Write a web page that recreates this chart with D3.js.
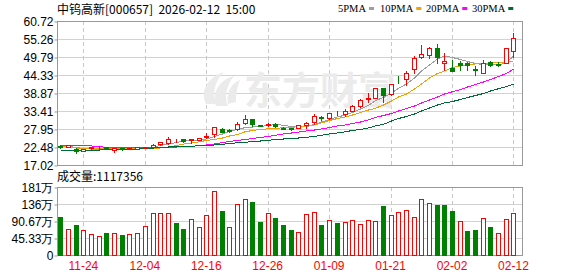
<!DOCTYPE html>
<html>
<head>
<meta charset="utf-8">
<title>中钨高新 日K</title>
<style>
  body { margin: 0; background: #fff; }
  svg { display: block; font-family: "Liberation Sans", Arial, sans-serif; }
</style>
</head>
<body>
<script src="https://cdn.jsdelivr.net/npm/d3@7/dist/d3.min.js"></script>
<script>
  // trading days shown (MM-DD)
  var dates = ["11-19","11-20","11-21","11-24","11-25","11-26","11-27","11-28","12-01","12-02",
    "12-03","12-04","12-05","12-08","12-09","12-10","12-11","12-12","12-15","12-16",
    "12-17","12-18","12-19","12-22","12-23","12-24","12-25","12-26","12-29","12-30",
    "12-31","01-05","01-06","01-07","01-08","01-09","01-12","01-13","01-14","01-15",
    "01-16","01-19","01-20","01-21","01-22","01-23","01-26","01-27","01-28","01-29",
    "01-30","02-02","02-03","02-04","02-05","02-06","02-09","02-10","02-11","02-12"];

  var open = [22.88,22.63,21.97,21.27,22.09,22.39,22.48,21.48,22.03,21.88,
    21.97,22.27,22.48,23.39,23.70,24.46,24.82,24.61,24.61,25.43,
    26.43,27.95,27.55,27.95,29.68,30.89,29.07,29.01,29.55,28.30,
    28.25,28.34,29.01,30.16,31.49,31.19,32.95,32.59,33.41,34.84,
    37.20,37.44,40.30,38.48,43.21,43.03,46.06,49.70,50.31,52.44,
    47.88,46.55,48.07,47.88,46.15,44.85,48.19,47.82,48.07,51.62];
  var close = [22.57,22.94,21.27,21.79,22.39,22.63,21.97,22.09,21.79,22.09,
    22.39,22.48,23.18,24.00,24.82,24.70,24.30,24.82,25.12,25.67,
    28.46,27.13,27.34,29.46,30.98,29.46,28.92,29.55,28.86,28.09,
    28.04,29.16,29.71,31.98,31.28,32.80,32.71,33.41,35.02,36.75,
    37.44,40.30,38.17,41.51,42.97,44.94,49.40,50.71,52.44,49.70,
    48.49,45.64,47.37,47.28,45.76,48.07,47.28,47.37,52.53,55.47];
  var high = [23.24,23.09,22.09,21.88,22.48,22.79,22.63,22.18,22.18,22.24,
    22.48,22.63,23.49,24.15,25.43,24.82,24.91,24.91,25.21,26.64,
    28.55,28.10,28.04,29.98,32.19,31.13,29.31,29.68,29.68,28.46,
    28.40,29.31,29.98,32.41,31.98,32.89,33.50,34.02,35.14,36.90,
    38.78,40.39,40.39,41.60,44.18,45.55,50.10,53.44,52.74,53.74,
    50.92,48.89,48.67,48.28,47.16,48.89,48.67,48.28,52.53,56.99];
  var low = [22.18,22.48,20.75,21.12,21.88,22.18,21.82,21.06,21.57,21.73,
    21.88,22.18,22.09,23.24,23.30,24.00,23.91,23.79,24.46,25.31,
    25.61,27.04,27.04,27.73,29.37,28.86,28.76,28.86,28.70,27.85,
    27.79,28.25,28.34,29.55,30.68,31.07,32.29,31.98,33.32,34.71,
    36.23,37.35,36.23,38.35,41.81,41.30,45.03,49.40,49.40,47.88,
    45.85,45.55,45.85,45.85,44.33,44.79,47.06,47.06,48.07,49.88];

  // volume in 万 (10k shares)
  var volume = [101.7,69,79.6,66.3,55.7,50.4,59.3,58.4,53,56.6,
    59.3,77,111.5,111.5,111.5,85.8,69,97.3,74.3,106,
    169.8,116.8,74.3,135.3,148.6,140.6,88.5,111.5,98.2,79.6,
    66.3,61,108.8,114.1,79.6,92.9,85.8,89.3,94.6,82.3,
    94.6,90.2,130,106.1,114.1,119.4,100.8,148.6,138,133.6,
    133.6,116.8,90.2,63.7,66.3,98.2,74.3,58.4,95.5,111.7356];

  // moving averages
  var ma5 = [22.63,22.63,22.33,22.03,21.88,21.73,21.73,21.73,21.88,22.03,
    22.09,22.24,22.48,22.94,23.39,23.85,24.21,24.46,24.67,24.91,
    25.67,26.43,27.19,27.80,28.40,28.55,28.70,29.01,29.31,29.07,
    28.70,28.55,28.70,29.31,30.07,30.83,31.59,32.19,32.95,34.01,
    35.08,36.59,37.50,38.87,40.30,41.60,43.42,45.55,47.37,49.19,
    50.10,49.64,49.04,48.43,47.82,47.52,47.37,47.37,48.12,50.10];
  var ma10 = [22.79,22.48,22.18,22.09,22.03,22.03,21.94,21.88,21.88,21.88,
    21.88,21.88,21.94,22.18,22.48,22.94,23.39,23.70,24.09,24.46,
    24.76,25.21,25.82,26.28,27.13,27.49,27.80,28.01,28.16,28.31,
    28.46,28.64,28.86,29.16,29.77,30.52,31.13,31.59,32.19,32.95,
    33.71,34.23,35.23,36.44,37.66,38.57,40.08,41.60,43.42,44.79,
    45.55,46.61,47.06,47.37,47.67,47.82,47.91,48.12,48.28,48.58];
  var ma20 = [22.94,22.94,22.94,22.94,22.79,22.57,22.39,22.27,22.27,22.27,
    22.27,22.27,22.33,22.39,22.39,22.48,22.57,22.70,22.88,23.09,
    23.39,23.85,24.15,24.46,24.76,25.06,25.37,25.67,26.03,26.43,
    26.73,27.03,27.34,27.64,27.95,28.40,28.86,29.16,29.62,30.07,
    30.68,31.44,32.04,32.65,33.41,34.17,34.92,35.84,36.75,37.66,
    38.57,39.26,39.93,40.69,41.45,42.21,42.97,43.88,44.79,46.15];
  var ma30 = [21.27,21.27,21.27,21.27,21.42,21.57,21.66,21.73,21.73,21.73,
    21.79,22.03,22.18,22.33,22.48,22.54,22.63,22.72,22.85,23.00,
    23.09,23.30,23.55,23.76,23.94,24.09,24.30,24.52,24.76,24.91,
    25.06,25.21,25.43,25.67,26.03,26.43,26.73,27.13,27.49,27.80,
    28.25,28.86,29.37,30.37,31.13,31.74,32.50,33.41,34.32,35.23,
    35.84,36.29,36.90,37.50,38.11,38.72,39.48,40.17,40.84,41.60];

  var priceTicks = [60.72, 55.26, 49.79, 44.33, 38.87, 33.41, 27.95, 22.48, 17.02];
  var volTicks = [181.33, 136, 90.67, 45.33, 0];
  var volTickLabels = ["181万", "136万", "90.67万", "45.33万", "0"];
  var dateTicks = ["11-24", "12-04", "12-16", "12-26", "01-09", "01-21", "02-02", "02-12"];

  var maNames = ["5PMA", "10PMA", "20PMA", "30PMA"];
  var maSeries = [ma5, ma10, ma20, ma30];
  var maColors = ["#9d9d9d", "#f0a000", "#ff00ff", "#006a36"];

  var red = "#ff0000", green = "#008000";
  var width = 578, height = 276;
  var left = 57, right = 522;
  var pTop = 21, pBottom = 165, vTop = 187, vBottom = 255;

  var svg = d3.select("body").append("svg")
    .attr("width", width)
    .attr("height", height);

  var x = d3.scaleBand().domain(dates).range([56.5, 517.3])
    .paddingInner(0.36).paddingOuter(0.18);
  var y = d3.scaleLinear().domain([17.02, 60.72]).range([pBottom, pTop]);
  var v = d3.scaleLinear().domain([0, 181.33]).range([vBottom, vTop]);

  function cx(d) { return Math.round(x(d) + x.bandwidth() / 2) + 0.5; }
  function py(p) { return Math.round(y(p)) + 0.5; }

  // grid lines
  var grid = svg.append("g").attr("shape-rendering", "crispEdges");
  grid.selectAll(".hp").data(priceTicks.slice(1, -1)).enter().append("line")
    .attr("x1", left).attr("x2", right)
    .attr("y1", py).attr("y2", py)
    .attr("stroke", "#d2d2d2");
  grid.selectAll(".hv").data(volTicks.slice(1, -1)).enter().append("line")
    .attr("x1", left).attr("x2", right)
    .attr("y1", function (d) { return Math.round(v(d)) + 0.5; })
    .attr("y2", function (d) { return Math.round(v(d)) + 0.5; })
    .attr("stroke", "#d2d2d2");
  [[pTop, pBottom], [vTop, vBottom]].forEach(function (r) {
    grid.selectAll(null).data(dateTicks).enter().append("line")
      .attr("x1", cx).attr("x2", cx)
      .attr("y1", r[0]).attr("y2", r[1])
      .attr("stroke", "#c8c8c8")
      .attr("stroke-dasharray", "4,3");
  });

  // watermark
  var wm = svg.append("g").attr("fill", "#ebebeb");
  wm.append("path")
    .attr("d", "M206,104 C200,92 206,78 224,72 C214,82 212,94 216,104 Z" +
               "M216,106 C212,94 218,80 234,76 C226,86 224,98 228,106 Z" +
               "M228,104 C226,94 230,84 240,80 C236,90 236,98 236,102 Z");
  wm.append("text")
    .attr("x", 244).attr("y", 104)
    .attr("font-family", "Noto Sans CJK SC")
    .attr("font-weight", "bold")
    .attr("font-size", 38)
    .text("东方财富");

  // frames
  svg.append("rect").attr("x", left + 0.5).attr("y", pTop + 0.5)
    .attr("width", right - left).attr("height", pBottom - pTop)
    .attr("fill", "none").attr("stroke", "#999").attr("shape-rendering", "crispEdges");
  svg.append("rect").attr("x", left + 0.5).attr("y", vTop + 0.5)
    .attr("width", right - left).attr("height", vBottom - vTop)
    .attr("fill", "none").attr("stroke", "#999").attr("shape-rendering", "crispEdges");

  // axes
  var yAxis = svg.append("g")
    .attr("transform", "translate(" + (left + 0.5) + ",0.5)")
    .call(d3.axisLeft(y).tickValues(priceTicks).tickSize(3).tickPadding(1)
      .tickFormat(d3.format(".2f")));
  var vAxis = svg.append("g")
    .attr("transform", "translate(" + (left + 0.5) + ",0.5)")
    .call(d3.axisLeft(v).tickValues(volTicks).tickSize(3).tickPadding(1)
      .tickFormat(function (d, i) { return volTickLabels[i]; }));
  [yAxis, vAxis].forEach(function (a) {
    a.select(".domain").remove();
    a.selectAll(".tick line").attr("stroke", "#999");
    a.selectAll("text").attr("font-size", 12).attr("fill", "#000")
      .attr("font-family", "Liberation Sans, Arial, sans-serif");
  });
  var xAxis = svg.append("g")
    .attr("transform", "translate(0," + vBottom + ")")
    .call(d3.axisBottom(x).tickValues(dateTicks).tickSize(0).tickPadding(6));
  xAxis.select(".domain").remove();
  xAxis.selectAll("text").attr("font-size", 12).attr("fill", red)
    .attr("font-family", "Liberation Sans, Arial, sans-serif");

  // moving averages
  maSeries.forEach(function (s, k) {
    svg.append("path")
      .datum(s)
      .attr("fill", "none")
      .attr("stroke", maColors[k])
      .attr("stroke-width", 1)
      .attr("shape-rendering", "crispEdges")
      .attr("d", d3.line()
        .x(function (d, i) { return cx(dates[i]); })
        .y(function (d) { return y(d); }));
  });

  // candles
  var idx = d3.range(dates.length);
  var candles = svg.append("g").attr("shape-rendering", "crispEdges");
  function up(i) { return close[i] >= open[i]; }
  candles.selectAll(".wick").data(idx).enter().append("line")
    .attr("x1", function (i) { return cx(dates[i]); })
    .attr("x2", function (i) { return cx(dates[i]); })
    .attr("y1", function (i) { return Math.round(y(high[i])); })
    .attr("y2", function (i) { return Math.round(y(low[i])) + 1; })
    .attr("stroke", function (i) { return up(i) ? red : green; });
  candles.selectAll(".body").data(idx).enter().append("rect")
    .attr("x", function (i) { return cx(dates[i]) - 2; })
    .attr("width", 4)
    .attr("y", function (i) { return py(Math.max(open[i], close[i])); })
    .attr("height", function (i) {
      return Math.max(0, py(Math.min(open[i], close[i])) - py(Math.max(open[i], close[i])));
    })
    .attr("fill", function (i) { return up(i) ? "#fff" : green; })
    .attr("stroke", function (i) { return up(i) ? red : green; });

  // volume bars, coloured by change from previous close
  function volUp(i) { return i === 0 ? close[0] >= open[0] : close[i] >= close[i - 1]; }
  svg.append("g").attr("shape-rendering", "crispEdges")
    .selectAll("rect").data(idx).enter().append("rect")
    .attr("x", function (i) { return cx(dates[i]) - 2; })
    .attr("width", 4)
    .attr("y", function (i) { return Math.round(v(volume[i])) + 0.5; })
    .attr("height", function (i) { return vBottom - Math.round(v(volume[i])) - 0.5; })
    .attr("fill", function (i) { return volUp(i) ? "#fff" : green; })
    .attr("stroke", function (i) { return volUp(i) ? red : green; });

  // title
  svg.append("text")
    .attr("x", 57).attr("y", 14)
    .attr("font-family", "Noto Sans CJK SC")
    .attr("font-size", 12)
    .attr("fill", "#000")
    .attr("xml:space", "preserve")
    .text("中钨高新[000657]  2026-02-12  15:00");

  // legend
  var legendX = [338, 380, 426, 472];
  var legend = svg.append("g");
  maNames.forEach(function (n, k) {
    var t = legend.append("text")
      .attr("x", legendX[k]).attr("y", 12)
      .attr("font-family", "Liberation Serif, serif")
      .attr("font-size", 10.5)
      .attr("fill", "#000")
      .text(n);
    var w = t.node().getComputedTextLength();
    legend.append("rect")
      .attr("x", legendX[k] + w + 3).attr("y", 7)
      .attr("width", 5).attr("height", 3)
      .attr("fill", maColors[k]);
  });

  // volume label (last day, shares)
  svg.append("text")
    .attr("x", 57).attr("y", 181)
    .attr("font-family", "Noto Sans CJK SC")
    .attr("font-size", 12)
    .attr("fill", "#000")
    .text("成交量:" + Math.round(volume[volume.length - 1] * 10000));
</script>
</body>
</html>
